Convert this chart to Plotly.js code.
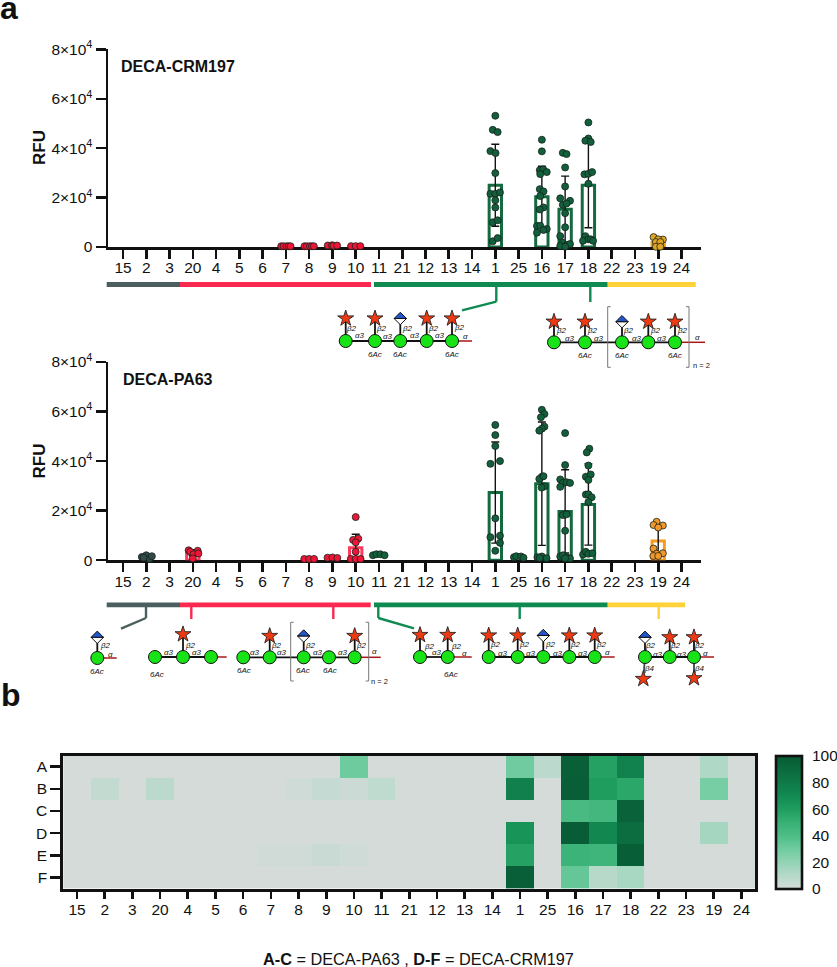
<!DOCTYPE html>
<html><head><meta charset="utf-8">
<script src="https://cdn.plot.ly/plotly-3.0.0.min.js"></script>
<style>html,body{margin:0;padding:0;background:#fff}</style></head>
<body><div id="chart" style="width:837px;height:967px"></div>
<script>
const categories = ['15','2','3','20','4','5','6','7','8','9','10','11','21','12','13','14','1','25','16','17','18','22','23','19','24'];
const yTickVals = [0,20000,40000,60000,80000];
const yTickText = ['0','2×10<sup>4</sup>','4×10<sup>4</sup>','6×10<sup>4</sup>','8×10<sup>4</sup>'];
const rowLabels = ['A','B','C','D','E','F'];

// DECA-CRM197 bars
const crmBarCats = ['1','16','17','18','19'];
const crmBarMeans = [25000,20300,15300,25000,1800];
const crmBarSDs = [16600,12400,13400,17200,1600];
// DECA-CRM197 points (value, horizontal jitter in category widths)
const crm7 = [300,300,300,300,300];       const crm7J = [-.2,-.1,.03,.12,.2];
const crm8 = [300,300,300,300,300];       const crm8J = [-.2,-.1,.03,.12,.2];
const crm9 = [600,700,500,600];           const crm9J = [-.2,-.02,.05,.2];
const crm10 = [350,350,350];              const crm10J = [-.2,0,.2];
const crm1 = [53100,47400,46500,38800,38000,29900,21500,21500,22100,18900,16000,10000,10800,2300,3600];
const crm1J = [0,-.11,.10,-.21,.01,0,-.21,0,.20,0,0,-.11,.10,-.11,.10];
const crm16 = [43400,38700,31100,31400,30300,29500,23400,22500,20600,16000,15200,8500,8600,7300,6900,5800];
const crm16J = [0,0,-.09,.06,.21,-.07,-.09,.07,-.07,.07,-.09,-.21,-.07,.21,.07,-.21];
const crm17 = [38100,37600,32200,24500,19700,18700,17100,17600,13700,8000,4400,1700,400,700,1200,100];
const crm17J = [-.10,.06,0,0,-.21,.21,-.10,.06,0,0,-.21,-.10,-.21,.07,.21,0];
const crm18 = [50400,43900,43000,42500,29400,29600,30300,25600,4400,2500,3100,3100,2500];
const crm18J = [0,0,-.13,.10,-.17,0,.16,0,-.13,-.23,0,.10,.20];
const crm19 = [4000,3000,3100,2000,2000,100,100];
const crm19J = [-.20,.20,0,-.10,.09,-.10,.09];

// DECA-PA63 bars
const paBarCats = ['20','10','1','16','17','18','19'];
const paBarMeans = [3000,5000,27300,30900,19700,22500,7800];
const paBarSDs = [1200,5500,20400,24900,16800,16400,6100];
// DECA-PA63 points
const pa2 = [1300,2000,500,1600,1000];    const pa2J = [-.19,0,.14,.24,-.12];
const pa20 = [4000,3400,3800,2400,2700,700]; const pa20J = [-.18,-.11,.21,.03,.24,0];
const pa8 = [500,500,500];                const pa8J = [-.21,0,.21];
const pa9 = [1000,1100,900];              const pa9J = [-.21,0,.21];
const pa10 = [17400,8200,8700,7200,3400,500,500,500]; const pa10J = [0,-.11,.11,0,0,-.21,0,.21];
const pa11 = [2000,2400,2400,2000];       const pa11J = [-.26,-.11,.06,.24];
const pa1 = [54600,50500,46100,38900,40000,16900,9300,9900,7000,3800];
const pa1J = [0,0,0,-.21,.20,0,-.21,.20,.20,0];
const pa25 = [1200,1600,1500,1000];       const pa25J = [-.2,-.1,.1,.21];
const pa16 = [60700,59000,57700,53900,53100,52300,33700,32800,33900,29800,29300,1200,1500,800,900];
const pa16J = [0,.11,-.04,.11,0,-.11,0,-.11,.07,.11,-.01,-.19,0,.20,-.09];
const pa17 = [51300,38400,32600,31200,31500,31200,29600,18200,18500,11900,1500,2000,1200,700,800];
const pa17J = [0,0,-.21,-.10,.06,.21,-.21,-.10,.06,0,-.21,-.09,.07,.21,0];
const pa18 = [45000,43500,38200,33700,34600,32400,26500,26600,25400,23500,2300,3400,2600,2800];
const pa18J = [.04,-.07,0,-.11,.10,0,-.11,0,.14,0,-.23,-.11,0,.17];
const pa19 = [15500,14200,14000,13200,4700,2600,2800,1700,1700];
const pa19J = [-.07,-.20,.20,0,-.20,-.07,.20,-.21,0];

// Heat map values, one row per label, in the order of categories
const rowA = [0,0,0,0,0,0,0,0,0,0,31,0,0,0,0,0,30,8,96,58,75,0,0,12,0];
const rowB = [0,6,0,8,0,0,0,0,2,5,3,7,0,0,0,0,76,0,97,60,55,0,0,28,0];
const rowC = [0,0,0,0,0,0,0,0,0,0,0,0,0,0,0,0,0,0,42,45,95,0,0,0,0];
const rowD = [0,0,0,0,0,0,0,0,0,0,0,0,0,0,0,0,65,0,98,72,88,0,0,15,0];
const rowE = [0,0,0,0,0,0,0,1.5,1.5,4,2,0,0,0,0,0,58,0,48,46,97,0,0,0,0];
const rowF = [0,0,0,0,0,0,0,0,0,0,0,0,0,0,0,0,96,0,33,10,14,0,0,0,0];

const FONT = '"Liberation Sans", Arial, sans-serif';
const W = 837, H = 967, INK = '#111', TICK = 15.5;
const GREEN='#125f3b', GRAY='#30494a', RED='#ee1536', GOLD='#dfa424', ORANGE='#f2982a';
const BAR = {green:'#15693f', red:'#fb3a5c', gold:'#e7b030', orange:'#f59c20'};
const barColor = {'1':BAR.green,'16':BAR.green,'17':BAR.green,'18':BAR.green,'19':BAR.orange,'20':BAR.red,'10':BAR.red};
const ix = c => categories.indexOf(c);
const pyd = (top,bot) => [1-bot/H, 1-top/H];

function barTrace(cats, means, sds, xa, ya){
  return {type:'bar', x:cats.map(ix), y:means, width:0.53, xaxis:xa, yaxis:ya, cliponaxis:false,
    marker:{color:'rgba(255,255,255,0)', line:{color:cats.map(c=>barColor[c]), width:3}},
    error_y:{type:'data', array:sds, visible:true, color:INK, thickness:1.4, width:4},
    hoverinfo:'skip', showlegend:false};
}
function dots(cat, vals, jit, col, xa, ya){
  return {type:'scatter', mode:'markers', x:vals.map((_,i)=>ix(cat)+jit[i]), y:vals, xaxis:xa, yaxis:ya, cliponaxis:false,
    marker:{size:7, color:col, line:{color:'#16231d', width:0.8}}, hoverinfo:'skip', showlegend:false};
}
const traces = [
  barTrace(crmBarCats, crmBarMeans, crmBarSDs, 'x', 'y'),
  dots('7',crm7,crm7J,RED,'x','y'), dots('8',crm8,crm8J,RED,'x','y'), dots('9',crm9,crm9J,RED,'x','y'), dots('10',crm10,crm10J,RED,'x','y'),
  dots('1',crm1,crm1J,GREEN,'x','y'), dots('16',crm16,crm16J,GREEN,'x','y'), dots('17',crm17,crm17J,GREEN,'x','y'), dots('18',crm18,crm18J,GREEN,'x','y'),
  dots('19',crm19,crm19J,GOLD,'x','y'),
  barTrace(paBarCats, paBarMeans, paBarSDs, 'x2', 'y2'),
  dots('2',pa2,pa2J,GRAY,'x2','y2'), dots('20',pa20,pa20J,RED,'x2','y2'), dots('8',pa8,pa8J,RED,'x2','y2'), dots('9',pa9,pa9J,RED,'x2','y2'), dots('10',pa10,pa10J,RED,'x2','y2'),
  dots('11',pa11,pa11J,GREEN,'x2','y2'), dots('1',pa1,pa1J,GREEN,'x2','y2'), dots('25',pa25,pa25J,GREEN,'x2','y2'), dots('16',pa16,pa16J,GREEN,'x2','y2'),
  dots('17',pa17,pa17J,GREEN,'x2','y2'), dots('18',pa18,pa18J,GREEN,'x2','y2'), dots('19',pa19,pa19J,ORANGE,'x2','y2'),
  {type:'heatmap', z:[rowA,rowB,rowC,rowD,rowE,rowF], x:categories.map((_,i)=>i), y:[0,1,2,3,4,5], xaxis:'x3', yaxis:'y3', zmin:0, zmax:100, xgap:0, ygap:0,
   colorscale:[[0,'#d4dbd9'],[.1,'#b6d9ca'],[.2,'#93d3b5'],[.3,'#70cca0'],[.4,'#4dbd86'],[.5,'#38b074'],[.6,'#1f9d5f'],[.7,'#138a52'],[.8,'#0f7a48'],[.9,'#0b6a3e'],[1,'#075a34']],
   hoverinfo:'skip',
   colorbar:{x:775.5/W, xanchor:'left', y:1-889/H, yanchor:'bottom', xpad:0, ypad:0, thicknessmode:'pixels', thickness:26, lenmode:'pixels', len:133,
     outlinewidth:2.6, outlinecolor:'#111', ticks:'outside', ticklen:6, tickwidth:1, tickcolor:'rgba(0,0,0,0)', tickmode:'array', tickvals:[0,20,40,60,80,100], ticktext:['0','20','40','60','80','100'],
     tickfont:{family:FONT,size:TICK,color:INK}}}
];

// ---- schematic glycan drawings and brackets, in page pixels on an overlay axis ----
const shapes = [], notes = [];
const circles = {x:[],y:[]}, stars = {x:[],y:[]};
const ln = (x0,y0,x1,y1,color,width) => shapes.push({type:'line',xref:'x4',yref:'y4',x0,y0,x1,y1,layer:'below',line:{color,width}});
const pth = (d,fill,lw) => shapes.push({type:'path',xref:'x4',yref:'y4',path:d,layer:'above',fillcolor:fill,line:{color:'#111',width:lw}});
const note = (x,y,text,size,anchor,shift) => notes.push({xref:'x4',yref:'y4',x,y,text,showarrow:false,xanchor:anchor||'center',yanchor:'middle',xshift:shift||0,font:{family:FONT,size,color:INK}});
function diamond(x,y){
  const a=6.2;
  pth(`M${x-a},${y} L${x},${y+a} L${x+a},${y} Z`,'#fff',1);
  pth(`M${x-a},${y} L${x},${y-a} L${x+a},${y} Z`,'#2255cc',1);
}
function glycan(xs,y,redTo,tops,topY,labels){
  ln(xs[0],y,xs[xs.length-1],y,'#111',1.8);
  ln(xs[xs.length-1],y,redTo,y,'#a81818',1.5);
  xs.forEach(x=>{circles.x.push(x);circles.y.push(y);});
  tops.forEach(([x,k])=>{
    ln(x,y,x,topY,'#111',1.8);
    if(k==='s'){stars.x.push(x);stars.y.push(topY);} else diamond(x,topY);
  });
  labels.forEach(([x,yy,t])=>note(x,yy,`<i>${t}</i>`,8));
}
function bracket(x0,x1,y0,y1,n){
  [[x0,1],[x1,-1]].forEach(([x,d])=>{
    ln(x,y0,x,y1,'#777',1); ln(x,y0,x+d*3,y0,'#777',1); ln(x,y1,x+d*3,y1,'#777',1);
  });
  note(n[0],n[1],'n = 2',7.5);
}
// top-left
glycan([345.7,375,400.3,426.7,452],341,472,[[345.7,'s'],[375,'s'],[400.3,'d'],[426.7,'s'],[452,'s']],318.5,[
 [351,328,'β2'],[381,328,'β2'],[407,328,'β2'],[433,328,'β2'],[459,327,'β2'],
 [360,335,'α3'],[388,336,'α3'],[415,335,'α3'],[440,335,'α3'],[465,336,'α']]);
note(375,354,'<i>6Ac</i>',8); note(400,354,'<i>6Ac</i>',8); note(452,354,'<i>6Ac</i>',8);
// top-right
glycan([554,585,622,648.3,675],342.3,705,[[554,'s'],[585,'s'],[622,'d'],[648.3,'s'],[675,'s']],321.7,[
 [561,330.5,'β2'],[592,330.5,'β2'],[628.5,330.5,'β2'],[655,330.5,'β2'],[682,330.5,'β2'],
 [569.5,338,'α3'],[599,338,'α3'],[636.5,338,'α3'],[661.5,338,'α3'],[697,337.7,'α'],
 [585,355.7,'6Ac'],[622,355.7,'6Ac'],[675,355.7,'6Ac']]);
bracket(607.7,689,306.7,367.3,[701.7,365.7]);
// bottom row
glycan([97.3],658,116.7,[[97.3,'d']],637.3,[[105,645.5,'β2'],[110,654,'α'],[97.3,671.3,'6Ac']]);
glycan([155,183,211],657,226.7,[[183,'s']],634.3,[[190.7,645,'β2'],[169,652.3,'α3'],[197.3,652.3,'α3'],[156.7,674.7,'6Ac']]);
glycan([243.3,269.7,303.7,329,354.7],657.3,380.7,[[269.7,'s'],[303.7,'d'],[354.7,'s']],636,[
 [276.3,645,'β2'],[310,645.7,'β2'],[361.7,645,'β2'],[255.3,652.3,'α3'],[282.3,652.3,'α3'],[318.3,652.3,'α3'],[343.3,652.3,'α3'],[374.7,651.7,'α'],
 [244,670.7,'6Ac'],[303.3,670.7,'6Ac'],[330.3,670.7,'6Ac']]);
bracket(290.7,368.7,622.3,681,[379,681]);
glycan([420,447.7],657,471.7,[[420,'s'],[447.7,'s']],635,[[429.3,646,'β2'],[456,646,'β2'],[436.7,652.3,'α3'],[464.3,653.3,'α'],[450.7,674,'6Ac']]);
glycan([488.7,517.7,543.3,569.3,594.7],657,614.7,[[488.7,'s'],[517.7,'s'],[543.3,'d'],[569.3,'s'],[594.7,'s']],635.5,[
 [495,644.5,'β2'],[524,644.5,'β2'],[550,644.5,'β2'],[575.5,644.5,'β2'],[601,644.5,'β2'],[503,653.3,'α3'],[531,653.3,'α3'],[558,653.3,'α3'],[582.5,653.3,'α3'],[607.5,652,'α']]);
glycan([645,669.7,694],657,714,[[645,'d'],[669.7,'s'],[694,'s']],637.3,[
 [650.5,645.5,'β2'],[675,645.5,'β2'],[699.5,645.5,'β2'],[649.5,668.7,'β4'],[699.5,668.3,'β4'],[658,654.5,'α3'],[681.7,654,'α3'],[705.7,653.3,'α']]);
ln(645,657,643.3,679,'#444',1.8); ln(694,657,694,678.3,'#444',1.8);
stars.x.push(643.3,694); stars.y.push(679,678.3);

// group bars under the axes
const gb=(x0,x1,y,c)=>shapes.push({type:'line',xref:'x4',yref:'y4',x0,x1,y0:y,y1:y,layer:'below',line:{color:c,width:4.8}});
const G1='#4b5f5f',G2='#fb2850',G3='#0f8a50',G4='#ffd23a';
gb(106.7,180,284.5,G1); gb(180,371,284.5,G2); gb(374,607.7,284.5,G3); gb(607.7,695.7,284.5,G4);
gb(106.7,180,604.8,G1); gb(180,370.7,604.8,G2); gb(374,607.7,604.8,G3); gb(607.7,685,604.8,G4);
const cn=(pts,c)=>{for(let i=0;i<pts.length-1;i++) ln(pts[i][0],pts[i][1],pts[i+1][0],pts[i+1][1],c,2.4);};
cn([[496.3,286],[496.3,301.7],[462,310.3]],G3);
cn([[590.3,286],[590.3,302]],G3);
cn([[146,606],[146,618],[121,628.7]],G1);
cn([[191.3,606],[191.3,619]],G2);
cn([[333.3,606],[333.3,619]],G2);
cn([[378.3,606],[378.3,618],[414,628.3]],G3);
cn([[519.7,606],[519.7,619]],G3);
cn([[658.7,606],[658.7,619]],G4);
// colour bar inner ticks on both sides
[20,40,60,80].forEach(v=>{const y=889-v*1.33;
  [[776,781],[796.5,801.5]].forEach(([x0,x1])=>shapes.push({type:'line',xref:'x4',yref:'y4',x0,x1,y0:y,y1:y,layer:'above',line:{color:'#111',width:2}}));});

traces.push({type:'scatter',mode:'markers',x:circles.x,y:circles.y,xaxis:'x4',yaxis:'y4',hoverinfo:'skip',showlegend:false,
  marker:{size:13,color:'#17e317',line:{color:'#111',width:1}}});
traces.push({type:'scatter',mode:'markers',x:stars.x,y:stars.y,xaxis:'x4',yaxis:'y4',hoverinfo:'skip',showlegend:false,
  marker:{symbol:'star',size:12,color:'#ee3a12',line:{color:'#222',width:0.9}}});

// panel texts
note(0,8,'<b>a</b>',32,'left',-2);
note(0,695,'<b>b</b>',32,'left',-1);
note(118.5,66,'<b>DECA-CRM197</b>',16,'left');
note(120.5,379,'<b>DECA-PA63</b>',16,'left');
note(418,959,'<b>A-C</b> = DECA-PA63 , <b>D-F</b> = DECA-CRM197',16.3);
[[39,148],[39,461.5]].forEach(([x,y])=>notes.push({xref:'x4',yref:'y4',x,y,text:'<b>RFU</b>',textangle:-90,showarrow:false,xanchor:'center',yanchor:'middle',font:{family:FONT,size:17,color:INK}}));

const unit = 23.27, xPix0 = 123;
function barX(){return {range:[(108.3-xPix0)/unit,(700.7-xPix0)/unit], domain:[108.3/W,700.7/W], tickmode:'array', tickvals:categories.map((_,i)=>i), ticktext:categories,
  tickfont:{family:FONT,size:TICK,color:INK}, ticks:'outside', ticklen:9, tickwidth:2.6, tickcolor:'#111', showline:true, linecolor:'#111', linewidth:2.8, showgrid:false, zeroline:false, layer:'below traces', fixedrange:true, tickangle:0, ticklabelstandoff:-4};}
function barY(dom){return {range:[0,80000], domain:dom, tickmode:'array', tickvals:yTickVals, ticktext:yTickText, tickfont:{family:FONT,size:TICK,color:INK}, ticks:'outside', ticklen:10, tickwidth:2.4, tickcolor:'#111', showline:true, linecolor:'#111', linewidth:2.8, showgrid:false, zeroline:false, layer:'below traces', fixedrange:true};}

const layout = {
  width:W, height:H, margin:{l:0,r:0,t:0,b:0,pad:0,autoexpand:false}, paper_bgcolor:'#fff', plot_bgcolor:'rgba(0,0,0,0)', showlegend:false, barmode:'overlay', font:{family:FONT},
  xaxis:Object.assign(barX(),{anchor:'y'}), yaxis:Object.assign(barY(pyd(49.3,247)),{anchor:'x'}),
  xaxis2:Object.assign(barX(),{anchor:'y2'}), yaxis2:Object.assign(barY(pyd(362,560.2)),{anchor:'x2'}),
  xaxis3:{anchor:'y3', domain:[63.2/W,755.3/W], range:[-.5,24.5], tickmode:'array', tickvals:categories.map((_,i)=>i), ticktext:categories, tickfont:{family:FONT,size:TICK,color:INK}, ticks:'outside', ticklen:7, tickwidth:2.6, tickcolor:'#111', showline:true, mirror:true, linecolor:'#111', linewidth:3, showgrid:false, zeroline:false, fixedrange:true, tickangle:0, ticklabelstandoff:-2},
  yaxis3:{anchor:'x3', domain:pyd(755.5,888.7), range:[5.5,-.5], tickmode:'array', tickvals:[0,1,2,3,4,5], ticktext:rowLabels, tickfont:{family:FONT,size:TICK,color:INK}, ticks:'outside', ticklen:10, tickwidth:2.4, tickcolor:'#111', showline:true, mirror:true, linecolor:'#111', linewidth:3, showgrid:false, zeroline:false, fixedrange:true},
  xaxis4:{domain:[0,1], range:[0,W], visible:false, fixedrange:true, anchor:'y4'},
  yaxis4:{domain:[0,1], range:[H,0], visible:false, fixedrange:true, anchor:'x4'},
  shapes, annotations:notes
};
Plotly.newPlot('chart', traces, layout, {displayModeBar:false, staticPlot:true});
</script></body></html>
